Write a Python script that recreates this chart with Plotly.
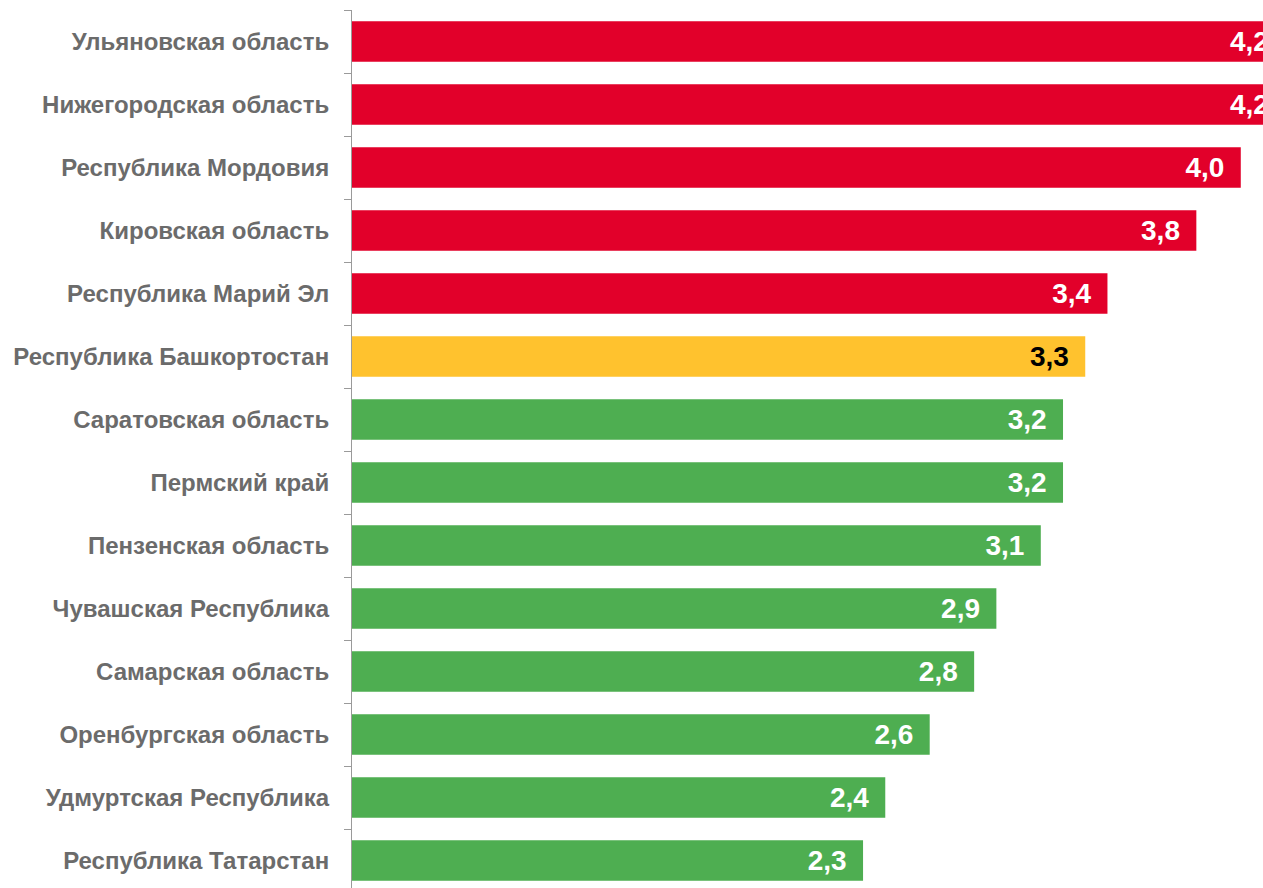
import plotly.graph_objects as go

regions = [
    "Ульяновская область",
    "Нижегородская область",
    "Республика Мордовия",
    "Кировская область",
    "Республика Марий Эл",
    "Республика Башкортостан",
    "Саратовская область",
    "Пермский край",
    "Пензенская область",
    "Чувашская Республика",
    "Самарская область",
    "Оренбургская область",
    "Удмуртская Республика",
    "Республика Татарстан",
]
values = [4.2, 4.2, 4.0, 3.8, 3.4, 3.3, 3.2, 3.2, 3.1, 2.9, 2.8, 2.6, 2.4, 2.3]
groups = ["high"] * 5 + ["mid"] + ["low"] * 8

palette = {"high": "#E2002A", "mid": "#FFC22E", "low": "#4EAE51"}
text_palette = {"high": "#FFFFFF", "mid": "#000000", "low": "#FFFFFF"}

labels = [f"{v:.1f}".replace(".", ",") + "\u00a0\u2009" for v in values]

fig = go.Figure(
    go.Bar(
        x=values,
        y=regions,
        orientation="h",
        marker=dict(color=[palette[g] for g in groups], line=dict(width=0)),
        width=0.64,
        text=labels,
        textposition="inside",
        insidetextanchor="end",
        textangle=0,
        textfont=dict(
            family="Liberation Sans, Arial, sans-serif",
            size=28,
            weight="bold",
            color=[text_palette[g] for g in groups],
        ),
        cliponaxis=True,
        hoverinfo="skip",
    )
)

fig.update_layout(
    width=1263,
    height=892,
    margin=dict(l=352, r=0, t=10, b=0, autoexpand=False),
    paper_bgcolor="white",
    plot_bgcolor="white",
    showlegend=False,
)
fig.update_xaxes(
    range=[0, 4.1],
    visible=False,
    showgrid=False,
    zeroline=False,
    automargin=False,
)
fig.update_yaxes(
    autorange="reversed",
    automargin=False,
    showline=True,
    linecolor="#9A9A9A",
    linewidth=1,
    ticks="outside",
    tickson="boundaries",
    ticklen=7,
    tickcolor="#9A9A9A",
    tickwidth=1,
    ticklabelstandoff=17,
    showgrid=False,
    tickfont=dict(
        family="Liberation Sans, Arial, sans-serif",
        size=24,
        weight="bold",
        color="#6B6B6B",
    ),
)

fig.write_html(
    "out.html",
    config={"displayModeBar": False, "staticPlot": True},
    post_script=(
        "document.body.style.margin='0';"
        "document.body.style.overflow='hidden';"
        "document.documentElement.style.overflow='hidden';"
    ),
)
